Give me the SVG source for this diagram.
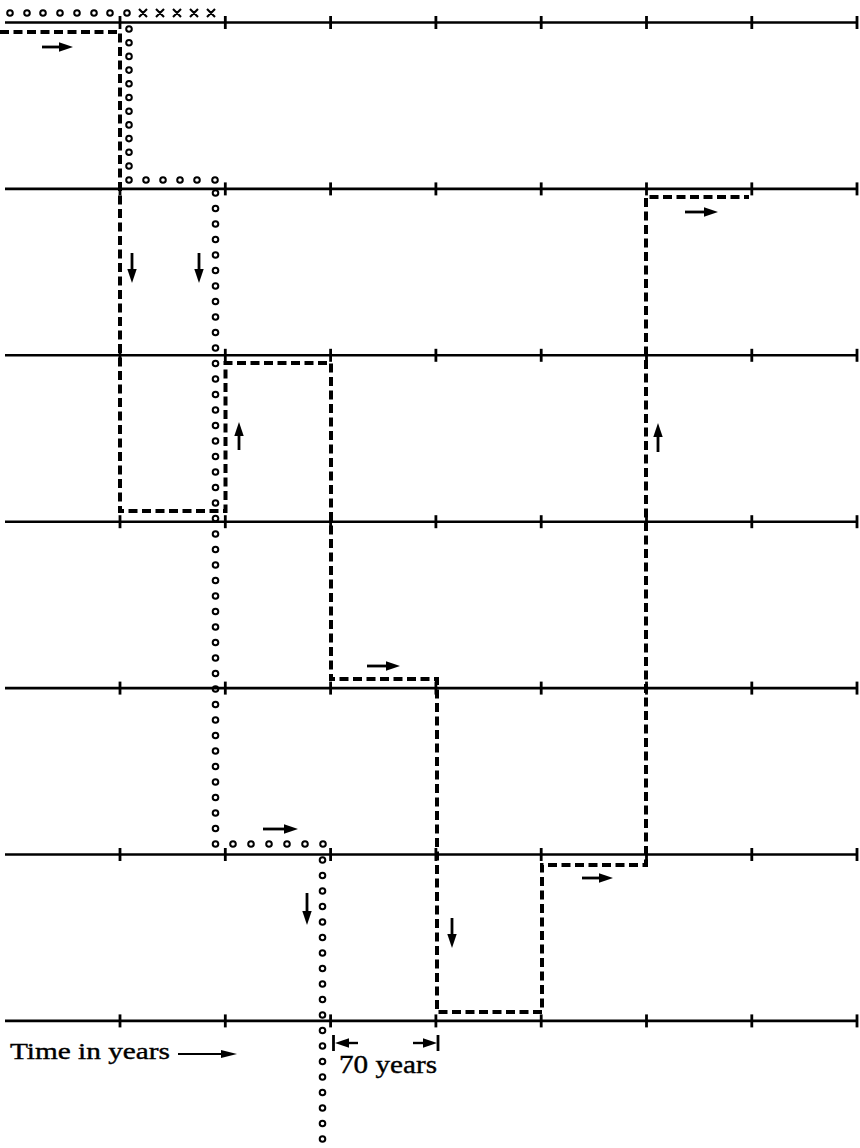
<svg xmlns="http://www.w3.org/2000/svg" width="860" height="1148" viewBox="0 0 860 1148">
<style>
.axis{stroke:#000;stroke-width:2.6;fill:none}
.tick{stroke:#000;stroke-width:2.8}
.o{fill:none;stroke:#000;stroke-width:2}
.x{stroke:#000;stroke-width:2.1;fill:none}
.dash{fill:none;stroke:#000;stroke-width:4;stroke-dasharray:9 4.5}
.arr{stroke:#000;stroke-width:2.8;fill:none;marker-end:url(#ah)}
.lbl{font-family:"Liberation Serif","DejaVu Serif",serif;fill:#000;stroke:#000;stroke-width:0.4}
</style>
<defs>
<marker id="ah" markerUnits="userSpaceOnUse" markerWidth="14" markerHeight="10" refX="8" refY="5" orient="auto"><path d="M0,0.3 L14,5 L0,9.7 z" fill="#000"/></marker>
<marker id="ah2" markerUnits="userSpaceOnUse" markerWidth="16" markerHeight="10" refX="8" refY="5" orient="auto"><path d="M0,1 L16,5 L0,9 z" fill="#000"/></marker>
<g id="ticks"><line class="tick" x1="120" y1="-6.5" x2="120" y2="6.5"/><line class="tick" x1="225.3" y1="-6.5" x2="225.3" y2="6.5"/><line class="tick" x1="330.6" y1="-6.5" x2="330.6" y2="6.5"/><line class="tick" x1="435.9" y1="-6.5" x2="435.9" y2="6.5"/><line class="tick" x1="541.2" y1="-6.5" x2="541.2" y2="6.5"/><line class="tick" x1="646.5" y1="-6.5" x2="646.5" y2="6.5"/><line class="tick" x1="751.8" y1="-6.5" x2="751.8" y2="6.5"/><line class="tick" x1="857" y1="-6.5" x2="857" y2="6.5"/><line class="axis" x1="5" y1="0" x2="857" y2="0"/></g>
</defs>
<rect width="860" height="1148" fill="#fff"/>
<g id="timelines">
<use href="#ticks" y="22.5"/>
<use href="#ticks" y="188.9"/>
<use href="#ticks" y="355.3"/>
<use href="#ticks" y="521.7"/>
<use href="#ticks" y="688.1"/>
<use href="#ticks" y="854.5"/>
<use href="#ticks" y="1020.9"/>
</g>
<g id="connectors">
<path id="dashed-path" class="dash" d="M0,32 H120 V511 H225.5 V363 H331 V679 H437 V1012 H542 V865 H646 V197 H749"/>
</g>
<g id="circle-path">
<circle class="o" cx="10" cy="13" r="2.8"/><circle class="o" cx="27" cy="13" r="2.8"/><circle class="o" cx="43" cy="13" r="2.8"/><circle class="o" cx="60" cy="13" r="2.8"/><circle class="o" cx="77" cy="13" r="2.8"/><circle class="o" cx="94" cy="13" r="2.8"/><circle class="o" cx="110" cy="13" r="2.8"/><circle class="o" cx="127" cy="13" r="2.8"/>
<circle class="o" cx="129" cy="29" r="2.8"/><circle class="o" cx="129" cy="42.7" r="2.8"/><circle class="o" cx="129" cy="56.4" r="2.8"/><circle class="o" cx="129" cy="70.1" r="2.8"/><circle class="o" cx="129" cy="83.8" r="2.8"/><circle class="o" cx="129" cy="97.5" r="2.8"/><circle class="o" cx="129" cy="111.2" r="2.8"/><circle class="o" cx="129" cy="124.9" r="2.8"/><circle class="o" cx="129" cy="138.6" r="2.8"/><circle class="o" cx="129" cy="152.3" r="2.8"/><circle class="o" cx="129" cy="166" r="2.8"/><circle class="o" cx="129" cy="180" r="2.8"/>
<circle class="o" cx="146" cy="180" r="2.8"/><circle class="o" cx="163" cy="180" r="2.8"/><circle class="o" cx="180" cy="180" r="2.8"/><circle class="o" cx="197" cy="180" r="2.8"/><circle class="o" cx="215" cy="180" r="2.8"/>
<circle class="o" cx="215.5" cy="193" r="2.8"/><circle class="o" cx="215.5" cy="208.5" r="2.8"/><circle class="o" cx="215.5" cy="224" r="2.8"/><circle class="o" cx="215.5" cy="239.5" r="2.8"/><circle class="o" cx="215.5" cy="255" r="2.8"/><circle class="o" cx="215.5" cy="270.5" r="2.8"/><circle class="o" cx="215.5" cy="286" r="2.8"/><circle class="o" cx="215.5" cy="301.5" r="2.8"/><circle class="o" cx="215.5" cy="317" r="2.8"/><circle class="o" cx="215.5" cy="332.5" r="2.8"/><circle class="o" cx="215.5" cy="348" r="2.8"/><circle class="o" cx="215.5" cy="363.5" r="2.8"/><circle class="o" cx="215.5" cy="379" r="2.8"/><circle class="o" cx="215.5" cy="394.5" r="2.8"/><circle class="o" cx="215.5" cy="410" r="2.8"/><circle class="o" cx="215.5" cy="425.5" r="2.8"/><circle class="o" cx="215.5" cy="441" r="2.8"/><circle class="o" cx="215.5" cy="456.5" r="2.8"/><circle class="o" cx="215.5" cy="472" r="2.8"/><circle class="o" cx="215.5" cy="487.5" r="2.8"/><circle class="o" cx="215.5" cy="503" r="2.8"/><circle class="o" cx="215.5" cy="518.5" r="2.8"/><circle class="o" cx="215.5" cy="534" r="2.8"/><circle class="o" cx="215.5" cy="549.5" r="2.8"/><circle class="o" cx="215.5" cy="565" r="2.8"/><circle class="o" cx="215.5" cy="580.5" r="2.8"/><circle class="o" cx="215.5" cy="596" r="2.8"/><circle class="o" cx="215.5" cy="611.5" r="2.8"/><circle class="o" cx="215.5" cy="627" r="2.8"/><circle class="o" cx="215.5" cy="642.5" r="2.8"/><circle class="o" cx="215.5" cy="658" r="2.8"/><circle class="o" cx="215.5" cy="673.5" r="2.8"/><circle class="o" cx="215.5" cy="689" r="2.8"/><circle class="o" cx="215.5" cy="704.5" r="2.8"/><circle class="o" cx="215.5" cy="720" r="2.8"/><circle class="o" cx="215.5" cy="735.5" r="2.8"/><circle class="o" cx="215.5" cy="751" r="2.8"/><circle class="o" cx="215.5" cy="766.5" r="2.8"/><circle class="o" cx="215.5" cy="782" r="2.8"/><circle class="o" cx="215.5" cy="797.5" r="2.8"/><circle class="o" cx="215.5" cy="813" r="2.8"/><circle class="o" cx="215.5" cy="828.5" r="2.8"/><circle class="o" cx="215.5" cy="844" r="2.8"/>
<circle class="o" cx="233" cy="844" r="2.8"/><circle class="o" cx="251" cy="844" r="2.8"/><circle class="o" cx="269" cy="844" r="2.8"/><circle class="o" cx="287" cy="844" r="2.8"/><circle class="o" cx="305" cy="844" r="2.8"/><circle class="o" cx="323" cy="844" r="2.8"/>
<circle class="o" cx="322.5" cy="860" r="2.8"/><circle class="o" cx="322.5" cy="875.5" r="2.8"/><circle class="o" cx="322.5" cy="891" r="2.8"/><circle class="o" cx="322.5" cy="906.5" r="2.8"/><circle class="o" cx="322.5" cy="922" r="2.8"/><circle class="o" cx="322.5" cy="937.5" r="2.8"/><circle class="o" cx="322.5" cy="953" r="2.8"/><circle class="o" cx="322.5" cy="968.5" r="2.8"/><circle class="o" cx="322.5" cy="984" r="2.8"/><circle class="o" cx="322.5" cy="999.5" r="2.8"/><circle class="o" cx="322.5" cy="1015" r="2.8"/><circle class="o" cx="322.5" cy="1030.5" r="2.8"/><circle class="o" cx="322.5" cy="1046" r="2.8"/><circle class="o" cx="322.5" cy="1061.5" r="2.8"/><circle class="o" cx="322.5" cy="1077" r="2.8"/><circle class="o" cx="322.5" cy="1092.5" r="2.8"/><circle class="o" cx="322.5" cy="1108" r="2.8"/><circle class="o" cx="322.5" cy="1123.5" r="2.8"/><circle class="o" cx="322.5" cy="1139" r="2.8"/>
</g>
<g id="cross-marks">
<path class="x" d="M139,9 l8,8 M147,9 l-8,8 M156,9 l8,8 M164,9 l-8,8 M173,9 l8,8 M181,9 l-8,8 M190,9 l8,8 M198,9 l-8,8 M207,9 l8,8 M215,9 l-8,8"/>
</g>
<g id="direction-arrows">
<line class="arr" x1="42" y1="47" x2="67" y2="47"/>
<line class="arr" x1="132" y1="253" x2="132" y2="277"/>
<line class="arr" x1="199" y1="253" x2="199" y2="277"/>
<line class="arr" x1="239" y1="450" x2="239" y2="428"/>
<line class="arr" x1="367" y1="666" x2="394" y2="666"/>
<line class="arr" x1="685" y1="212" x2="712" y2="212"/>
<line class="arr" x1="658" y1="452" x2="658" y2="429"/>
<line class="arr" x1="263" y1="829" x2="292" y2="829"/>
<line class="arr" x1="307" y1="893" x2="307" y2="919"/>
<line class="arr" x1="452" y1="918" x2="452" y2="942"/>
<line class="arr" x1="582" y1="878" x2="607" y2="878"/>
</g>
<g id="time-label">
<text class="lbl" x="10" y="1059" font-size="24" textLength="160" lengthAdjust="spacingAndGlyphs">Time in years</text>
<line x1="178" y1="1054" x2="229" y2="1054" stroke="#000" stroke-width="1.8" marker-end="url(#ah2)"/>
</g>
<g id="interval-label">
<line class="tick" x1="333.5" y1="1035" x2="333.5" y2="1051" stroke-width="2"/>
<line class="tick" x1="438" y1="1035" x2="438" y2="1051" stroke-width="2"/>
<line x1="358" y1="1043" x2="341" y2="1043" stroke="#000" stroke-width="2.4" marker-end="url(#ah)"/>
<line x1="413" y1="1043" x2="431" y2="1043" stroke="#000" stroke-width="2.4" marker-end="url(#ah)"/>
<text class="lbl" x="339" y="1073" font-size="26" textLength="98" lengthAdjust="spacingAndGlyphs">70 years</text>
</g>
</svg>
